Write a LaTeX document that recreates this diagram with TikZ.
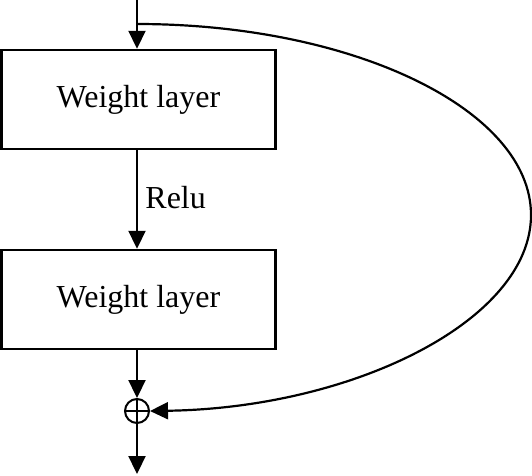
\documentclass[tikz,border=0pt]{standalone}
\usepackage{fontspec}
\setmainfont{Liberation Serif}
\usetikzlibrary{arrows.meta}
\begin{document}
\begin{tikzpicture}[x=1pt,y=-1pt,
  line width=2.2pt,
  lbl/.style={font=\fontsize{32}{38}\selectfont},
  layerbox/.style={draw, line width=2.5pt, minimum width=274pt, minimum height=99pt, inner sep=0pt, lbl},
  arr/.style={-{Triangle[length=18pt,width=17pt]}},
  sumnode/.style={draw, circle, minimum size=24pt, inner sep=0pt, line width=2pt}]
\useasboundingbox (0,0) rectangle (532,475);
\coordinate (in) at (137,0);
\coordinate (br) at (137,24);
\node[layerbox] (w1) at (138.5,99.5) {Weight layer};
\node[layerbox] (w2) at (138.5,299.5) {Weight layer};
\node[sumnode] (sum) at (137,411) {};
\draw[line width=1.8pt] (sum.north) -- (sum.south) (sum.west) -- (sum.east);
\coordinate (out) at (137,474);
\draw[arr] (in) -- (w1.north -| in);
\draw[arr] (w1.south -| in) -- node[right, xshift=4pt, yshift=2pt, lbl] (relu) {Relu} (w2.north -| in);
\draw[arr] (w2.south -| in) -- (sum.north);
\draw[arr] (sum.south) -- (out);
\draw[arr] (br) .. controls (354,24) and (531,110) .. (531,215)
  .. controls (531,320) and (354,408) .. (sum.east);
\end{tikzpicture}
\end{document}
